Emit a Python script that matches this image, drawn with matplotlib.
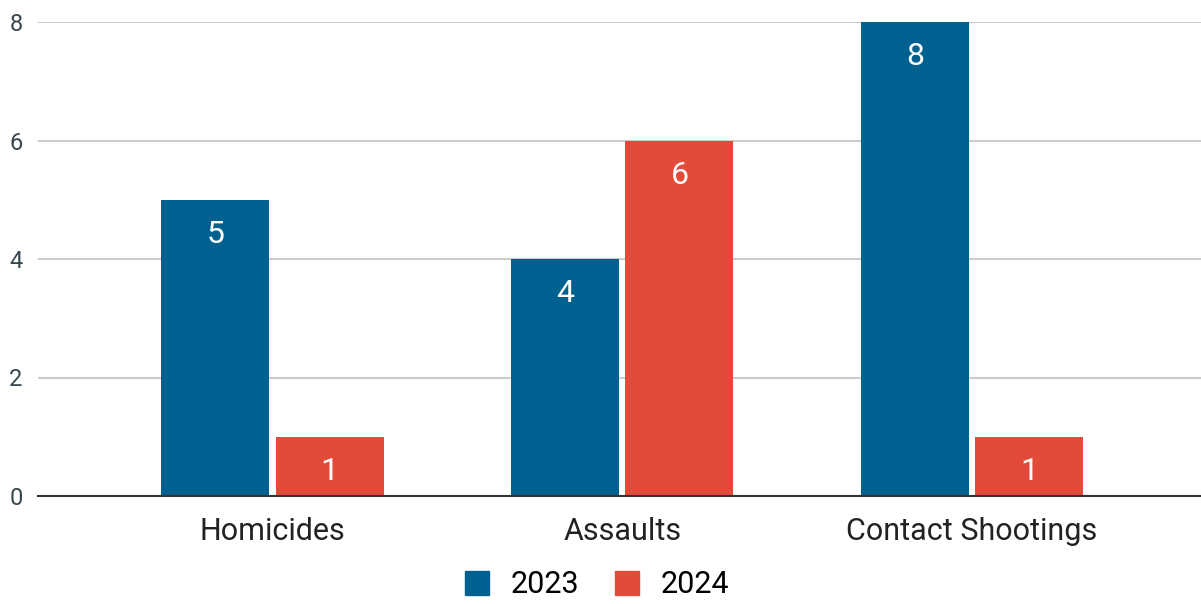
import numpy as np
import matplotlib.pyplot as plt

plt.rcParams['font.family'] = ['Roboto', 'DejaVu Sans']

categories = ['Homicides', 'Assaults', 'Contact Shootings']
series_names = ['2023', '2024']
values_2023 = [5, 4, 8]
values_2024 = [1, 6, 1]
y_ticks = [0, 2, 4, 6, 8]

blue = '#00608F'
red = '#E24A39'

fig = plt.figure(figsize=(12.01, 6.04), dpi=100)
ax = fig.add_axes([38 / 1201, 1 - 496 / 604, 1 - 38 / 1201, (496 - 22) / 604])

x = np.arange(len(categories))
w = 0.309
gap = 0.009
b1 = ax.bar(x - w / 2 - gap, values_2023, width=w, color=blue, zorder=3)
b2 = ax.bar(x + w / 2 + gap, values_2024, width=w, color=red, zorder=3)

for bars in (b1, b2):
    for rect in bars:
        h = rect.get_height()
        ax.annotate(f'{h:g}', (rect.get_x() + rect.get_width() / 2, h),
                    xytext=(0, -25), textcoords='offset points',
                    ha='center', va='center', color='white', fontsize=23, zorder=4)

ax.set_xlim(-0.671, 2.655)
ax.set_ylim(0, 8)
ax.set_yticks(y_ticks)
ax.set_yticklabels([str(t) for t in y_ticks])
ax.set_xticks(x)
ax.set_xticklabels(categories)
ax.tick_params(axis='y', length=0, pad=11, labelsize=17, labelcolor='#37474F')
ax.tick_params(axis='x', length=0, pad=15, labelsize=22, labelcolor='#222222')

ax.grid(axis='y', color='#CCCCCC', linewidth=1.5, zorder=0)
for s in ['top', 'right', 'left']:
    ax.spines[s].set_visible(False)
ax.spines['bottom'].set_color('#333333')
ax.spines['bottom'].set_linewidth(1.5)
ax.spines['bottom'].set_zorder(5)

handles = [plt.Rectangle((0, 0), 1, 1, color=c) for c in (blue, red)]
fig.legend(handles, series_names, loc='lower center', bbox_to_anchor=(0.497, -0.038),
           ncol=2, frameon=False, fontsize=22, handlelength=0.8, handleheight=0.8,
           columnspacing=1.15, handletextpad=0.7)

fig.savefig('out.png', dpi=100)
